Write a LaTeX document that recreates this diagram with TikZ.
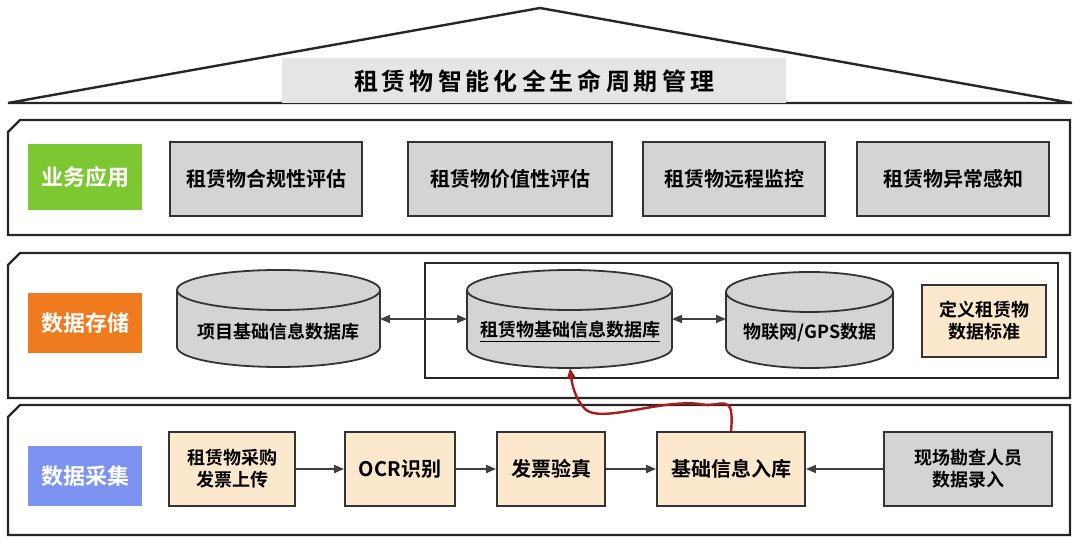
\documentclass[tikz,border=0pt]{standalone}
\usepackage{fontspec}
\setmainfont{Noto Sans CJK SC Bold}
\usetikzlibrary{arrows.meta}
\definecolor{bxgray}{HTML}{D4D4D4}
\definecolor{beige}{HTML}{FCE8CC}
\definecolor{lgreen}{HTML}{7DC832}
\definecolor{lorange}{HTML}{F07A1E}
\definecolor{lblue}{HTML}{7D93F2}
\definecolor{darkred}{HTML}{A81C1C}
\tikzset{
 panel/.style={draw=black!85,line width=1.2pt},
 lab/.style={text=white,font=\fontsize{11}{13}\selectfont},
 gbox/.style={draw=black!80,fill=bxgray,line width=0.9pt,font=\fontsize{10}{12}\selectfont},
 bbox/.style={draw=black!80,fill=beige,line width=0.9pt,font=\fontsize{9}{11}\selectfont,align=center},
 arr/.style={-{Triangle[length=5pt,width=4pt]},draw=black!75,line width=0.9pt},
 darr/.style={{Triangle[length=5pt,width=4pt]}-{Triangle[length=5pt,width=4pt]},draw=black!75,line width=0.9pt},
}
% cylinder: name, x1, x2, top, bottom
\newcommand\mycyl[5]{%
 \fill[bxgray] (#2,{539-(#4+20)}) -- (#2,{539-(#5-20)}) arc[start angle=180,end angle=360,x radius={(#3-#2)/2},y radius=20] -- (#3,{539-(#4+20)}) -- cycle;
 \draw[draw=black!80,line width=0.9pt] (#2,{539-(#4+20)}) -- (#2,{539-(#5-20)}) arc[start angle=180,end angle=360,x radius={(#3-#2)/2},y radius=20] -- (#3,{539-(#4+20)});
 \draw[draw=black!80,fill=bxgray,line width=0.9pt] ({(#2+#3)/2},{539-(#4+20)}) ellipse[x radius={(#3-#2)/2},y radius=20];
 \node[minimum width={(#3-#2)*0.5pt},minimum height={(#5-#4)*0.5pt},inner sep=0] (#1) at ({(#2+#3)/2},{539-(#4+#5)/2}) {};
}
\begin{document}
\begin{tikzpicture}[x=0.5pt,y=0.5pt]
\useasboundingbox (0,0) rectangle (1080,539);
% roof
\draw[line width=1.2pt,draw=black!85] (8,436) -- (540,531) -- (1072,436) -- cycle;
\fill[black!10] (282,436) rectangle (786,481);
\node[font=\fontsize{12}{14}\selectfont,inner sep=0] (title) at (534,458) {租\,赁\,物\,智\,能\,化\,全\,生\,命\,周\,期\,管\,理};
% panels
\draw[panel] (20,419) -- (1070,419) -- (1070,304) -- (8,304) -- (8,407) -- cycle;
\draw[panel] (20,286) -- (1070,286) -- (1070,141) -- (8,141) -- (8,274) -- cycle;
\draw[panel] (20,134) -- (1070,134) -- (1070,4) -- (8,4) -- (8,122) -- cycle;
% labels
\node[lab,fill=lgreen,minimum width=57pt,minimum height=33pt] (l1) at (85,362) {业务应用};
\node[lab,fill=lorange,minimum width=57pt,minimum height=30pt] (l2) at (85,216) {数据存储};
\node[lab,fill=lblue,minimum width=57pt,minimum height=30pt] (l3) at (85,63) {数据采集};
% row 1
\node[gbox,minimum width=96pt,minimum height=37pt] (a1) at (266,360) {租赁物合规性评估};
\node[gbox,minimum width=102pt,minimum height=37pt] (a2) at (510,360) {租赁物价值性评估};
\node[gbox,minimum width=91pt,minimum height=37pt] (a3) at (734,360) {租赁物远程监控};
\node[gbox,minimum width=96pt,minimum height=37pt] (a4) at (953,360) {租赁物异常感知};
% row 2
\draw[line width=1pt,draw=black!85] (425,276) rectangle (1058,161);
\mycyl{c1}{177}{380}{270}{367}
\mycyl{c2}{467}{672}{270}{368}
\mycyl{c3}{726}{893}{272}{368}
\node[font=\fontsize{9}{11}\selectfont] (t1) at (278,207) {项目基础信息数据库};
\node[font=\fontsize{9}{11}\selectfont] (t2) at (570,207) {\underline{租赁物基础信息数据库}};
\node[font=\fontsize{9}{11}\selectfont] (t3) at (810,207) {物联网/GPS数据};
\node[bbox,minimum width=62pt,minimum height=36pt] (std) at (984,218) {定义租赁物\\数据标准};
\draw[darr] (380,220) -- (467,220);
\draw[darr] (672,220) -- (726,220);
% row 3
\node[bbox,minimum width=63pt,minimum height=37pt] (b1) at (232,70) {租赁物采购\\发票上传};
\node[bbox,minimum width=55pt,minimum height=37pt,font=\fontsize{10}{12}\selectfont] (b2) at (400,70) {OCR识别};
\node[bbox,minimum width=54pt,minimum height=37pt,font=\fontsize{10}{12}\selectfont] (b3) at (551,70) {发票验真};
\node[bbox,minimum width=74pt,minimum height=37pt,font=\fontsize{10}{12}\selectfont] (b4) at (731,70) {基础信息入库};
\node[gbox,minimum width=84pt,minimum height=37pt,align=center,font=\fontsize{9}{11}\selectfont] (b5) at (968,70) {现场勘查人员\\数据录入};
\draw[arr] (b1) -- (b2);
\draw[arr] (b2) -- (b3);
\draw[arr] (b3) -- (b4);
\draw[arr] (b5) -- (b4);
\coordinate (rc) at (570,171);
\draw[darkred,line width=1.2pt,-{Triangle[length=5pt,width=4pt]}] (b4.north) .. controls (735,150) and (720,130) .. (700,135) .. controls (660,140) and (600,115) .. (585,130) .. controls (575,140) and (572,155) .. (rc);
\end{tikzpicture}
\end{document}
